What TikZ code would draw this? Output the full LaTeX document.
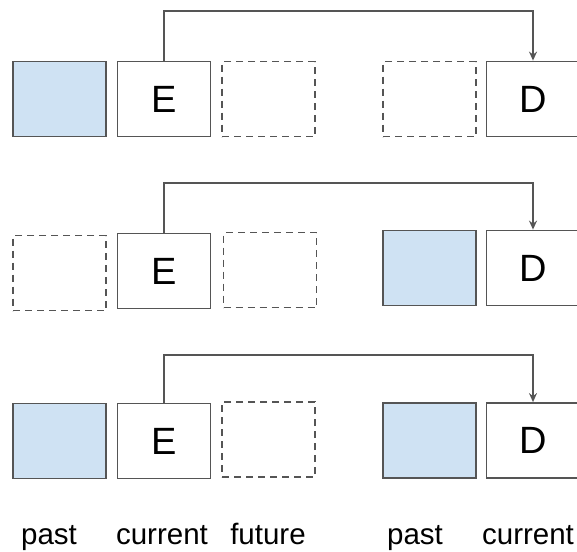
\documentclass[tikz,border=0pt]{standalone}
\usepackage{fontspec}
\setmainfont{Liberation Sans}
\usetikzlibrary{arrows.meta}
\definecolor{edge}{HTML}{555555}
\definecolor{pastblue}{HTML}{CFE2F3}
\tikzset{
  cell/.style={draw=edge, line width=1.8pt, minimum width=93pt, minimum height=75pt,
    inner sep=0pt, font=\fontsize{38}{42}\selectfont},
  pastcell/.style={cell, fill=pastblue},
  nowcell/.style={cell, fill=white},
  nextcell/.style={cell, dash pattern=on 7pt off 5pt, line width=1.6pt},
  caption/.style={anchor=base, font=\fontsize{29.5}{34}\selectfont},
  link/.style={draw=edge, line width=1.6pt, -{Stealth[length=9pt,width=8pt,inset=3pt]}}
}
\begin{document}
\begin{tikzpicture}[x=1pt, y=-1pt]
\useasboundingbox (0,0) rectangle (577,551);

% encoder / decoder states, step 1
\node[pastcell] (p1) at (59.5,99) {};
\node[nowcell] (e1) at (164,99) {E};
\node[nextcell] (f1) at (268.5,99) {};
\node[nextcell] (q1) at (429.5,99) {};
\node[nowcell] (d1) at (533,99) {D};
\coordinate (t1) at (164,11);
\draw[link] (e1.north) -- (t1) -| (d1.north);

% step 2
\node[nextcell] (p2) at (59.5,273) {};
\node[nowcell] (e2) at (164,271) {E};
\node[nextcell] (f2) at (270,270) {};
\node[pastcell] (q2) at (429.5,268) {};
\node[nowcell] (d2) at (533,268) {D};
\coordinate (t2) at (164,183);
\draw[link] (e2.north) -- (t2) -| (d2.north);

% step 3
\node[pastcell] (p3) at (59.5,441) {};
\node[nowcell] (e3) at (164,441) {E};
\node[nextcell] (f3) at (268.5,439.5) {};
\node[pastcell] (q3) at (429.5,440.5) {};
\node[nowcell] (d3) at (533,440.5) {D};
\coordinate (t3) at (164,355);
\draw[link] (e3.north) -- (t3) -| (d3.north);

% column captions
\node[caption] (l1) at (49,544) {past};
\node[caption] (l2) at (162,544) {current};
\node[caption] (l3) at (268,544) {future};
\node[caption] (l4) at (415,544) {past};
\node[caption] (l5) at (528,544) {current};
\end{tikzpicture}
\end{document}
